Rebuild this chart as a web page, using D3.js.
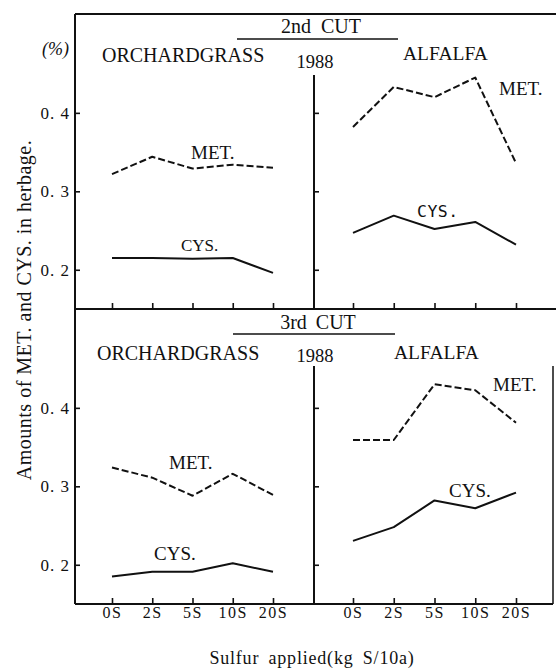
<!DOCTYPE html>
<html>
<head>
<meta charset="utf-8">
<script src="https://cdn.jsdelivr.net/npm/d3@7"></script>
<style>
  html, body { margin: 0; padding: 0; background: #fff; }
  svg { display: block; }
</style>
</head>
<body>
<svg id="chart" width="556" height="672"></svg>
<script>
// ---- data ----
const categories = ["0S", "2S", "5S", "10S", "20S"];
const yTickValues = [0.2, 0.3, 0.4];
// 2nd cut 1988
const metOrchard2 = [0.322, 0.344, 0.329, 0.334, 0.330];
const cysOrchard2 = [0.215, 0.215, 0.214, 0.215, 0.196];
const metAlfalfa2 = [0.382, 0.433, 0.420, 0.445, 0.336];
const cysAlfalfa2 = [0.247, 0.269, 0.252, 0.261, 0.232];
// 3rd cut 1988
const metOrchard3 = [0.324, 0.311, 0.288, 0.316, 0.289];
const cysOrchard3 = [0.185, 0.191, 0.191, 0.202, 0.191];
const metAlfalfa3 = [0.359, 0.359, 0.430, 0.4225, 0.381];
const cysAlfalfa3 = [0.2305, 0.248, 0.282, 0.272, 0.292];

// ---- layout ----
const SERIF = '"Liberation Serif", "DejaVu Serif", "Times New Roman", Times, serif';
const svg = d3.select("#chart");
const L = 75, M = 314, TOP = 14, SEP = 309, BOT = 604;
const INK = "#111";

const xLeft = d3.scalePoint().domain(categories).range([112, 273]);
const xRight = d3.scalePoint().domain(categories).range([353, 516]);
const yTop = d3.scaleLinear().domain([0.15, 0.526]).range([SEP, TOP]);
const yBot = d3.scaleLinear().domain([0.15, 0.526]).range([BOT, SEP]);

const fmt = d => d3.format(".1f")(d).replace(".", ". ");

// frame lines
const frame = svg.append("g").attr("stroke", INK).attr("stroke-width", 2).attr("fill", "none");
frame.append("line").attr("x1", L).attr("x2", 556).attr("y1", TOP).attr("y2", TOP);
frame.append("line").attr("x1", L).attr("x2", 556).attr("y1", SEP).attr("y2", SEP);
frame.append("line").attr("x1", L).attr("x2", 553).attr("y1", BOT).attr("y2", BOT);
frame.append("line").attr("x1", L).attr("x2", L).attr("y1", TOP).attr("y2", BOT);
frame.append("line").attr("x1", M).attr("x2", M).attr("y1", 75).attr("y2", SEP);
frame.append("line").attr("x1", M).attr("x2", M).attr("y1", 366).attr("y2", BOT);
frame.append("line").attr("x1", 553).attr("x2", 553).attr("y1", 366).attr("y2", BOT).attr("stroke-width", 1.5);

// title underlines
frame.append("line").attr("x1", 237).attr("x2", 398).attr("y1", 39).attr("y2", 39).attr("stroke-width", 1.6);
frame.append("line").attr("x1", 233).attr("x2", 395).attr("y1", 334).attr("y2", 334).attr("stroke-width", 1.6);

function styleAxis(g) {
  g.attr("font-family", SERIF);
  g.select(".domain").remove();
  g.selectAll(".tick line").attr("stroke", INK).attr("stroke-width", 1.6);
  g.selectAll("text").attr("fill", INK).attr("font-family", SERIF).style("font-family", SERIF);
}

// y axes (left labelled, middle ticks only)
[yTop, yBot].forEach(ys => {
  const gl = svg.append("g").attr("transform", `translate(${L},0)`)
    .call(d3.axisLeft(ys).tickValues(yTickValues).tickSizeInner(-5).tickSizeOuter(0).tickPadding(5).tickFormat(fmt));
  styleAxis(gl);
  gl.selectAll("text").style("font-size", "17px").style("letter-spacing", "1px");
  const gm = svg.append("g").attr("transform", `translate(${M},0)`)
    .call(d3.axisRight(ys).tickValues(yTickValues).tickSizeInner(5).tickSizeOuter(0).tickFormat(""));
  styleAxis(gm);
});

// x axes: separator (ticks only) and bottom (labelled)
[xLeft, xRight].forEach(xs => {
  const gs = svg.append("g").attr("transform", `translate(0,${SEP})`)
    .call(d3.axisBottom(xs).tickSizeInner(-6).tickSizeOuter(0).tickFormat(""));
  styleAxis(gs);
  const gb = svg.append("g").attr("transform", `translate(0,${BOT})`)
    .call(d3.axisBottom(xs).tickSizeInner(-6).tickSizeOuter(0).tickPadding(3));
  styleAxis(gb);
  gb.selectAll("text").style("font-size", "16px").style("letter-spacing", "1.5px");
});

// data lines
function drawLine(xs, ys, vals, dashed) {
  const line = d3.line().x((d, i) => xs(categories[i])).y(d => ys(d));
  svg.append("path").datum(vals)
    .attr("d", line)
    .attr("fill", "none")
    .attr("stroke", INK)
    .attr("stroke-width", 2)
    .attr("stroke-linejoin", "round")
    .attr("stroke-dasharray", dashed ? "7,3" : null);
}
drawLine(xLeft, yTop, metOrchard2, true);
drawLine(xLeft, yTop, cysOrchard2, false);
drawLine(xRight, yTop, metAlfalfa2, true);
drawLine(xRight, yTop, cysAlfalfa2, false);
drawLine(xLeft, yBot, metOrchard3, true);
drawLine(xLeft, yBot, cysOrchard3, false);
drawLine(xRight, yBot, metAlfalfa3, true);
drawLine(xRight, yBot, cysAlfalfa3, false);

// text labels
function label(x, y, t, size, opts = {}) {
  const fam = opts.family || SERIF;
  const el = svg.append("text").attr("x", x).attr("y", y).text(t)
    .attr("font-family", fam)
    .style("font-family", fam)
    .attr("fill", INK)
    .style("font-size", size + "px")
    .attr("text-anchor", opts.anchor || "start");
  if (opts.ls) el.style("letter-spacing", opts.ls + "px");
  if (opts.ws) el.style("word-spacing", opts.ws + "px");
  if (opts.italic) el.style("font-style", "italic");
  return el;
}
label(42, 55, "(%)", 18, { italic: true });

// top panel
label(321, 33, "2nd CUT", 20, { anchor: "middle", ws: 5 });
label(102, 62, "ORCHARDGRASS", 20);
label(315, 68, "1988", 18.5, { anchor: "middle" });
label(403, 60, "ALFALFA", 19.5);
label(191, 159, "MET.", 19);
label(181, 251, "CYS.", 17);
label(499, 95, "MET.", 19);
label(417, 217, "CYS.", 16.5, { family: '"DejaVu Sans Mono", "Liberation Mono", monospace', ls: 0.5 });

// bottom panel
label(318, 329, "3rd CUT", 20, { anchor: "middle", ws: 4 });
label(97, 360, "ORCHARDGRASS", 20);
label(315, 362, "1988", 18.5, { anchor: "middle" });
label(394, 359, "ALFALFA", 19.5);
label(169, 469, "MET.", 19);
label(154, 560, "CYS.", 19);
label(493, 391, "MET.", 19);
label(449, 497, "CYS.", 19);

// axis titles
label(312, 664, "Sulfur applied(kg S/10a)", 18, { anchor: "middle", ls: 0.8, ws: 4 });
svg.append("text")
  .attr("transform", "translate(31,310) rotate(-90)")
  .attr("text-anchor", "middle")
  .attr("font-family", SERIF)
  .style("font-family", SERIF)
  .attr("fill", INK)
  .style("font-size", "20px")
  .style("letter-spacing", "0.5px")
  .text("Amounts of MET. and CYS. in herbage.");
</script>
</body>
</html>
